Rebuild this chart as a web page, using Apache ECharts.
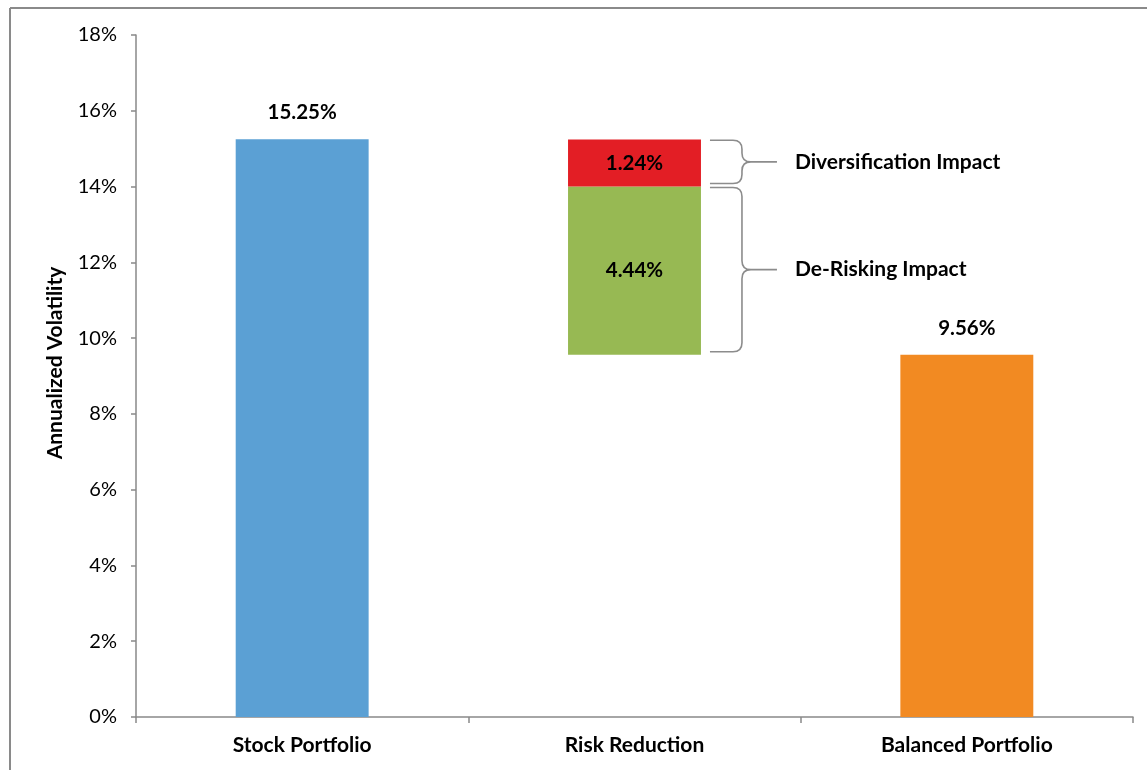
<!DOCTYPE html>
<html>
<head>
<meta charset="utf-8">
<script src="https://cdn.jsdelivr.net/npm/echarts@6/dist/echarts.min.js"></script>
<style>
html,body{margin:0;padding:0;background:#fff;}
#chart{width:1147px;height:770px;}
</style>
</head>
<body>
<div id="chart"></div>
<script>
// ---- data ----
var categories = ['Stock Portfolio', 'Risk Reduction', 'Balanced Portfolio'];
var stockValues = [15.25, '-', '-'];
var balancedValues = ['-', '-', 9.56];
var baseValues = ['-', 9.56, '-'];          // invisible floor of the waterfall step
var deRiskingValues = ['-', 4.44, '-'];
var diversificationValues = ['-', 1.24, '-'];
var yTicks = { min: 0, max: 18, interval: 2 };
// braces: [category index, low value, high value, label]
var braces = [
  [1, 14.0, 15.25, 'Diversification Impact'],
  [1, 9.56, 14.0, 'De-Risking Impact']
];

var FONT = 'Lato';
var chart = echarts.init(document.getElementById('chart'));

function pctLabel(pos, dist) {
  return {
    show: true, position: pos, distance: dist || 5,
    formatter: function (p) { return p.value.toFixed(2) + '%'; },
    color: '#000', fontFamily: FONT, fontWeight: 'bold', fontSize: 20.5
  };
}

var option = {
  animation: false,
  backgroundColor: '#fff',
  grid: { left: 136, right: 14, top: 35, bottom: 53 },
  graphic: [
    { type: 'line', shape: { x1: 10, y1: 8, x2: 1147, y2: 8 }, style: { stroke: '#8a8a8a', lineWidth: 2 } },
    { type: 'line', shape: { x1: 10, y1: 8, x2: 10, y2: 770 }, style: { stroke: '#8a8a8a', lineWidth: 2 } }
  ],
  xAxis: {
    type: 'category',
    data: categories,
    axisLine: { lineStyle: { color: '#898989', width: 1.5 } },
    axisTick: { show: true, length: 6, lineStyle: { color: '#898989', width: 1.5 } },
    axisLabel: { margin: 18, color: '#000', fontFamily: FONT, fontWeight: 'bold', fontSize: 21 },
    splitLine: { show: false }
  },
  yAxis: {
    type: 'value',
    min: yTicks.min, max: yTicks.max, interval: yTicks.interval,
    name: 'Annualized Volatility',
    nameLocation: 'middle',
    nameGap: 70,
    nameTextStyle: { color: '#000', fontFamily: FONT, fontWeight: 'bold', fontSize: 21, padding: [0, 0, 0, 26] },
    axisLine: { show: true, lineStyle: { color: '#898989', width: 1.5 } },
    axisTick: { show: true, length: 5, lineStyle: { color: '#898989', width: 1.5 } },
    axisLabel: { margin: 19, color: '#000', fontFamily: FONT, fontSize: 20, formatter: '{value}%' },
    splitLine: { show: false }
  },
  series: [
    { name: 'Stock', type: 'bar', stack: 's', barWidth: '40%', data: stockValues,
      itemStyle: { color: '#5BA0D4' }, label: pctLabel('top', 16) },
    { name: 'Base', type: 'bar', stack: 's', data: baseValues,
      itemStyle: { color: 'transparent' }, silent: true },
    { name: 'De-Risking', type: 'bar', stack: 's', data: deRiskingValues,
      itemStyle: { color: '#97B953' }, label: pctLabel('inside') },
    { name: 'Diversification', type: 'bar', stack: 's', data: diversificationValues,
      itemStyle: { color: '#E31E25' }, label: pctLabel('inside') },
    { name: 'Balanced', type: 'bar', stack: 's', data: balancedValues,
      itemStyle: { color: '#F28A22' }, label: pctLabel('top', 16) },
    {
      name: 'Braces', type: 'custom', silent: true, z: 10,
      data: braces,
      renderItem: function (params, api) {
        var ci = api.value(0);
        var top = api.coord([ci, api.value(2)]);
        var bot = api.coord([ci, api.value(1)]);
        var bw = api.size([1, 0])[0];
        var right = top[0] + bw * 0.2;
        var x0 = right + 9, x1 = right + 41, xTip = right + 76;
        var yT = top[1] + 1, yB = bot[1] - 3, yM = (yT + yB) / 2, r = 9;
        var p = 'M' + x0 + ',' + yT + ' L' + (x1 - r) + ',' + yT +
          ' Q' + x1 + ',' + yT + ' ' + x1 + ',' + (yT + r) +
          ' L' + x1 + ',' + (yM - r) +
          ' Q' + x1 + ',' + yM + ' ' + (x1 + r) + ',' + yM +
          ' L' + xTip + ',' + yM +
          ' M' + (x1 + r) + ',' + yM +
          ' Q' + x1 + ',' + yM + ' ' + x1 + ',' + (yM + r) +
          ' L' + x1 + ',' + (yB - r) +
          ' Q' + x1 + ',' + yB + ' ' + (x1 - r) + ',' + yB +
          ' L' + x0 + ',' + yB;
        return {
          type: 'group',
          children: [
            { type: 'path', shape: { pathData: p }, style: { fill: null, stroke: '#8c8c8c', lineWidth: 1.6 } },
            { type: 'text', x: right + 94, y: yM,
              style: { text: api.value(3), fill: '#000', font: 'bold 21px ' + FONT,
                       textAlign: 'left', textVerticalAlign: 'middle' } }
          ]
        };
      }
    }
  ]
};
chart.setOption(option);
</script>
</body>
</html>
